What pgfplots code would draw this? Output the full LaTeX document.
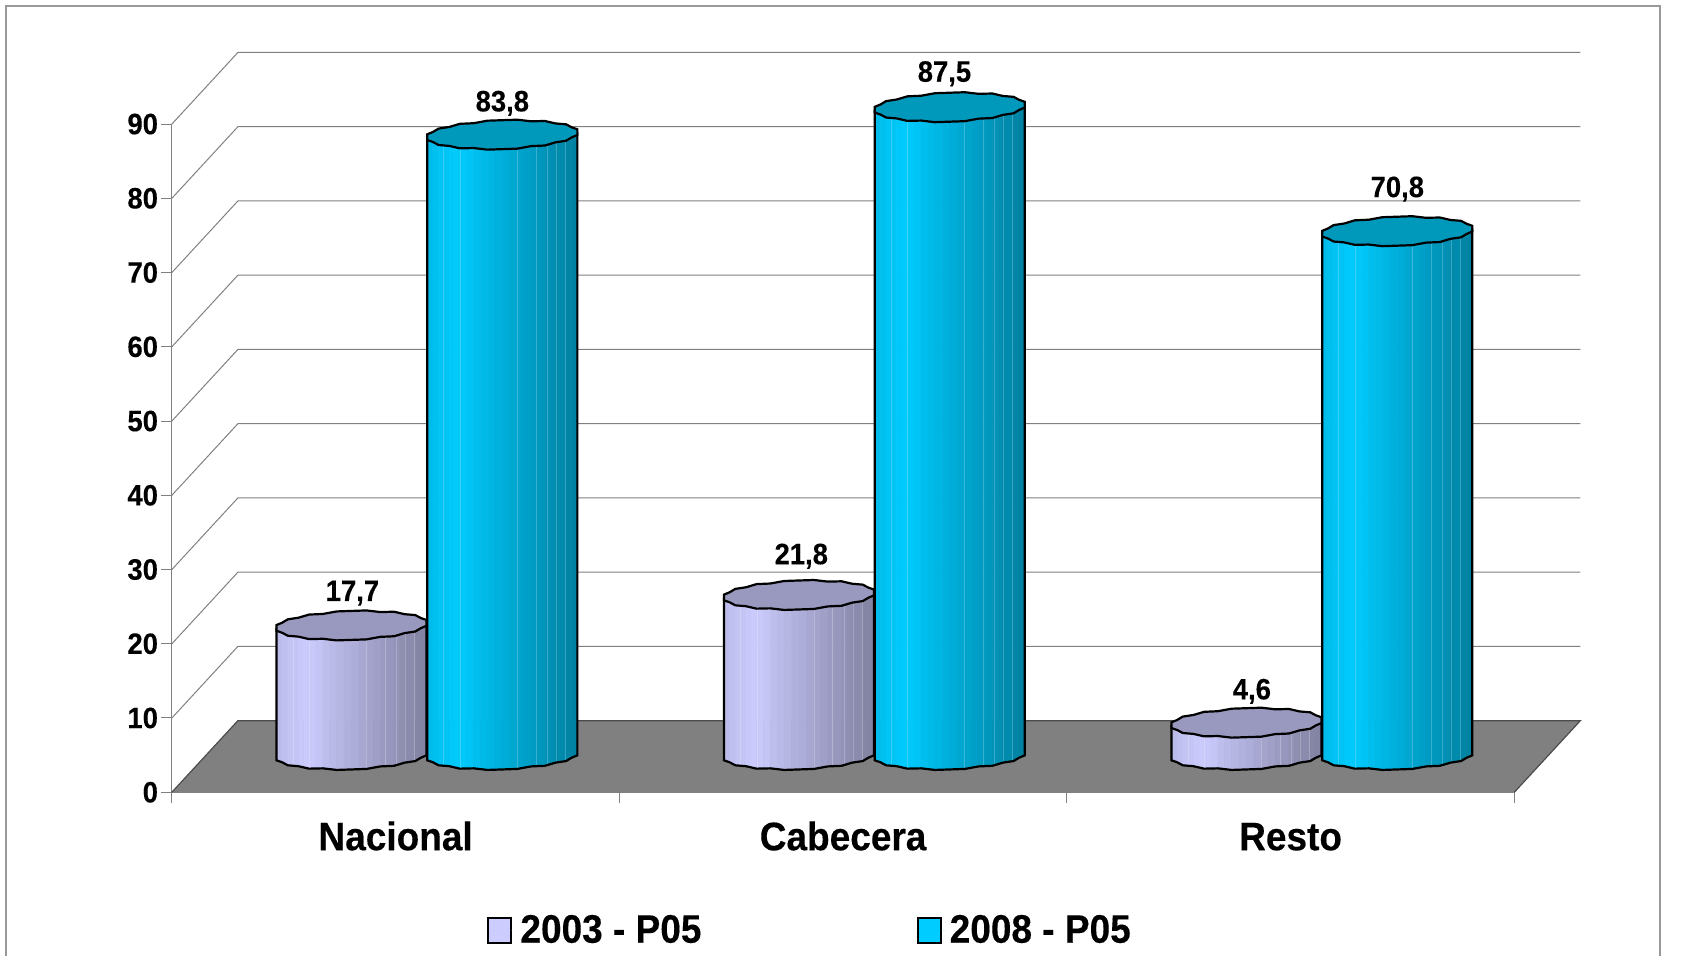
\documentclass[border=0pt]{standalone}
\usepackage{pgfplots}
\pgfplotsset{compat=1.18}
\usepackage{fontspec}
\setmainfont{Liberation Sans}[BoldFeatures={FakeStretch=0.93,FakeBold=0.25}]
\definecolor{lav}{HTML}{CCCCFF}
\definecolor{lavcap}{HTML}{9999BF}
\definecolor{cyn}{HTML}{00CCFF}
\definecolor{cyncap}{HTML}{0099BC}
\definecolor{wall}{HTML}{808080}
\definecolor{frame}{HTML}{999999}

% depth of the fake 3D box, data units
\def\depthx{0.1475}
\def\depthy{9.64}
% cylinder geometry: half width, half height of the cap, skew of the cap
\def\hw{0.1676}
\def\hh{1.99}
\def\sk{0.337}
\def\basey{5.02}

\newcommand\addvx[2]{%
  \pgfmathsetmacro\vxx{\xc+\hw*(#1)}%
  \pgfmathsetmacro\vxy{\yc+\hh*(#2)+\sk*(#1)}%
  \xdef\pts{\pts (\vxx,\vxy)}}

% scalloped lower edge, left to right
\newcommand\lowerrim{%
  \addvx{-1}{-0.195}\addvx{-0.925}{-0.34}\addvx{-0.85}{-0.556}\addvx{-0.708}{-0.64}%
  \addvx{-0.567}{-0.83}\addvx{-0.383}{-0.84}\addvx{-0.199}{-0.98}\addvx{0.199}{-0.98}%
  \addvx{0.383}{-0.84}\addvx{0.567}{-0.83}\addvx{0.708}{-0.64}\addvx{0.85}{-0.556}%
  \addvx{0.925}{-0.34}\addvx{1}{-0.195}}
% scalloped upper edge, right to left
\newcommand\upperrim{%
  \addvx{1}{0.195}\addvx{0.925}{0.34}\addvx{0.85}{0.556}\addvx{0.708}{0.64}%
  \addvx{0.567}{0.83}\addvx{0.383}{0.84}\addvx{0.199}{0.98}\addvx{-0.199}{0.98}%
  \addvx{-0.383}{0.84}\addvx{-0.567}{0.83}\addvx{-0.708}{0.64}\addvx{-0.85}{0.556}%
  \addvx{-0.925}{0.34}\addvx{-1}{0.195}}

% one run of strips along a side of the rim
\newcommand\seg[5]{%
  \pgfplotsforeachungrouped \st in {1,...,#5}{%
    \pgfmathsetmacro\ua{#1+(#3-#1)*(\st-1)/#5}%
    \pgfmathsetmacro\ub{#1+(#3-#1)*\st/#5}%
    \pgfmathsetmacro\wa{#2+(#4-#2)*(\st-1)/#5}%
    \pgfmathsetmacro\wb{#2+(#4-#2)*\st/#5}%
    \pgfmathsetmacro\tt{(\ua+\ub)/4+0.5}%
    \pgfmathtruncatemacro\pct{\tt<0.2 ? 92+40*\tt : 100-46*(\tt-0.2)}%
    \pgfmathsetmacro\xa{\xc+\hw*\ua}%
    \pgfmathsetmacro\xb{\xc+\hw*\ub}%
    \pgfmathsetmacro\ya{\basey+\hh*\wa+\sk*\ua}%
    \pgfmathsetmacro\yb{\basey+\hh*\wb+\sk*\ub}%
    \pgfmathsetmacro\yta{\ytop+\sk*\ua}%
    \pgfmathsetmacro\ytb{\ytop+\sk*\ub}%
    \edef\temp{\noexpand\addplot[forget plot,fill=\basecol!\pct!black,draw=\basecol!\pct!black,line width=0.25pt]
      coordinates {(\xa,\ya) (\xb,\yb) (\xb,\ytb) (\xa,\yta)} -- cycle;}\temp
  }}

% faint lighter line down the body
\newcommand\glint[2]{%
  \pgfmathsetmacro\xa{\xc+\hw*(#1)}%
  \pgfmathsetmacro\ya{\basey+\hh*(#2)+\sk*(#1)}%
  \pgfmathsetmacro\yta{\ytop+\sk*(#1)}%
  \edef\temp{\noexpand\addplot[forget plot,white,opacity=0.22,line width=0.5pt]
    coordinates {(\xa,\ya) (\xa,\yta)};}\temp}

% #1 centre x, #2 value, #3 body colour, #4 cap colour, #5 label, #6 #7 label shift
\newcommand\cyl[7]{%
  \def\xc{#1}\def\basecol{#3}%
  \pgfmathsetmacro\ytop{\basey+#2-0.25}%
  \seg{-1}{-0.195}{-0.925}{-0.34}{1}\seg{-0.925}{-0.34}{-0.85}{-0.556}{1}%
  \seg{-0.85}{-0.556}{-0.708}{-0.64}{1}\seg{-0.708}{-0.64}{-0.567}{-0.83}{2}%
  \seg{-0.567}{-0.83}{-0.383}{-0.84}{2}\seg{-0.383}{-0.84}{-0.199}{-0.98}{2}%
  \seg{-0.199}{-0.98}{0.199}{-0.98}{4}%
  \seg{0.199}{-0.98}{0.383}{-0.84}{2}\seg{0.383}{-0.84}{0.567}{-0.83}{2}%
  \seg{0.567}{-0.83}{0.708}{-0.64}{2}\seg{0.708}{-0.64}{0.85}{-0.556}{1}%
  \seg{0.85}{-0.556}{0.925}{-0.34}{1}\seg{0.925}{-0.34}{1}{-0.195}{1}%
  \glint{-0.78}{-0.6}\glint{-0.56}{-0.82}\glint{0.2}{-0.97}\glint{0.45}{-0.83}%
  \glint{0.6}{-0.78}\glint{0.72}{-0.63}\glint{0.84}{-0.54}%
  % outline of the body
  \def\yc{\basey}\xdef\pts{}%
  \pgfmathsetmacro\yleft{\ytop-\sk}\pgfmathsetmacro\yright{\ytop+\sk}%
  \pgfmathsetmacro\xl{\xc-\hw}\pgfmathsetmacro\xr{\xc+\hw}%
  \lowerrim
  \edef\temp{\noexpand\addplot[forget plot,black,line width=1.1pt]
    coordinates {(\xl,\yleft) \pts (\xr,\yright)};}\temp
  % cap
  \def\yc{\ytop}\xdef\pts{}%
  \upperrim\lowerrim
  \edef\temp{\noexpand\addplot[forget plot,fill=#4,draw=black,line width=1.1pt]
    coordinates {\pts} -- cycle;}\temp
  \pgfmathsetmacro\xlab{\xc+#6}\pgfmathsetmacro\ylab{\ytop+3.14+#7}%
  \edef\temp{\noexpand\node[anchor=base,inner sep=0pt,font=\noexpand\lblfont]
    at (axis cs:\xlab,\ylab) {#5};}\temp
}

\newcommand\lblfont{\fontsize{14.75}{16}\selectfont\bfseries}
\newcommand\catfont{\fontsize{19.9}{21}\selectfont\bfseries}

\begin{document}
\begin{tikzpicture}
\begin{axis}[
  scale only axis,
  width=671.25pt, height=334.1pt,
  xmin=0, xmax=3, ymin=0, ymax=90,
  clip=false,
  axis lines=left,
  axis line style={-, draw=wall, line width=0.6pt},
  tick align=outside,
  major tick length=5.25pt,
  tick style={draw=wall, line width=0.5pt},
  xtick={0,1,2,3}, xticklabels={,,,},
  extra x ticks={0.5,1.5,2.5},
  extra x tick labels={Nacional,Cabecera,Resto},
  extra x tick style={major tick length=0pt,
    tick label style={font=\catfont, anchor=base, yshift=-29pt}},
  ytick={0,10,...,90},
  y tick label style={font=\lblfont, inner sep=1.5pt},
  /pgf/number format/assume math mode=true,
  legend columns=2,
  legend cell align=left,
  legend style={at={(axis cs:1.4285,-18.6)}, anchor=center, draw=none, fill=none,
    font=\catfont, inner sep=0pt,
    /tikz/every even column/.append style={column sep=105.6pt}},
  legend image code/.code={\draw[#1] (0pt,-6.25pt) rectangle (11.5pt,6.25pt);
    \path[draw=none] (0pt,0pt) -- (14pt,0pt);},
]

% back wall and side lines
\pgfplotsforeachungrouped \v in {10,20,...,90}{%
  \pgfmathsetmacro\vb{\v+\depthy}\pgfmathsetmacro\xe{3+\depthx}%
  \edef\temp{\noexpand\addplot[forget plot,wall,line width=0.5pt]
    coordinates {(0,\v) (\depthx,\vb) (\xe,\vb)};}\temp
}
% floor
\addplot[forget plot,fill=wall,draw=none] coordinates {(0,0) (3,0) (3.1475,9.64) (0.1475,9.64)} -- cycle;
\addplot[forget plot,draw=black!70,line width=0.6pt] coordinates {(0,0) (0.1475,9.64) (3.1475,9.64) (3,0)};

\cyl{0.4015}{17.7}{lav}{lavcap}{17,7}{0.002}{0.15}
\cyl{0.7385}{83.8}{cyn}{cyncap}{83,8}{0}{0}
\cyl{1.4015}{21.8}{lav}{lavcap}{21,8}{0.005}{1.0}
\cyl{1.7385}{87.5}{cyn}{cyncap}{87,5}{-0.012}{0.29}
\cyl{2.4015}{4.6}{lav}{lavcap}{4,6}{0.012}{0}
\cyl{2.7385}{70.8}{cyn}{cyncap}{70,8}{0}{1.45}

\addlegendimage{fill=lav,draw=black,line width=1pt}
\addlegendentry{2003 - P05}
\addlegendimage{fill=cyn,draw=black,line width=1pt}
\addlegendentry{2008 - P05}

% outer frame, cut by the bottom of the page
\draw[frame,line width=1.25pt] (axis cs:-0.3707,-22.03) -- (axis cs:-0.3707,105.9)
  -- (axis cs:3.3253,105.9) -- (axis cs:3.3253,-22.03);
\coordinate (pagea) at (axis cs:-0.3841,-22.03);
\coordinate (pageb) at (axis cs:3.3791,106.71);
\end{axis}
\pgfresetboundingbox
\useasboundingbox (pagea) rectangle (pageb);
\end{tikzpicture}
\end{document}
